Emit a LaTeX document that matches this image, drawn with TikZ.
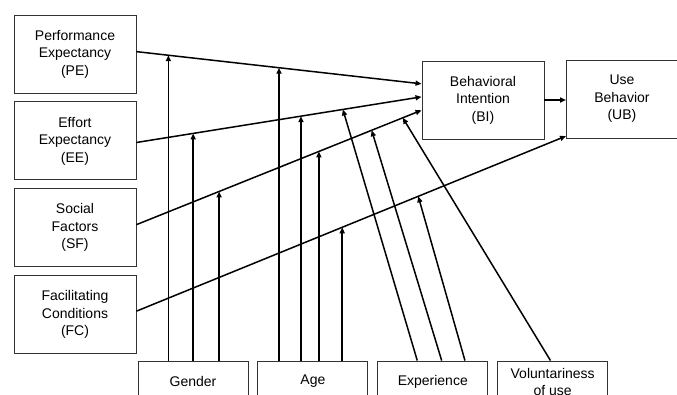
\documentclass[tikz,border=0pt]{standalone}
\usepackage{fontspec}
\setmainfont{Liberation Sans}
\usetikzlibrary{arrows.meta, positioning, calc}

\begin{document}
\begin{tikzpicture}[
    x=1pt, y=-1pt,
    node distance=8pt and 9pt,
    factor/.style={draw=black!80, line width=0.9pt, rectangle, minimum height=78pt, minimum width=122pt, inner sep=0pt, align=center, font=\fontsize{14}{17.5}\selectfont},
    moderator/.style={draw=black!80, line width=0.9pt, rectangle, minimum height=41pt, minimum width=110pt, inner sep=0pt, align=center, font=\fontsize{14}{17}\selectfont},
    line/.style={draw, line width=1.5pt, -{Triangle[length=6pt, width=5pt]}}
]
    \path[use as bounding box, clip] (0,0) rectangle (677,394);

    % Nodes
    \node[factor] (PE) at (75,54) {Performance\\Expectancy\\(PE)};
    \node[factor, below=of PE] (EE) {Effort\\Expectancy\\(EE)};
    \node[factor, below=of EE] (SF) {Social\\Factors\\(SF)};
    \node[factor, below=of SF] (FC) {Facilitating\\Conditions\\(FC)};
    \node[factor] (BI) at (483,100) {Behavioral\\Intention\\(BI)};
    \node[factor, minimum width=111pt, anchor=west] (UB) at (566,99) {Use\\Behavior\\(UB)};

    \node[moderator] (gender) at (193,381.5) {Gender};
    \node[moderator, right=of gender] (age) {Age};
    \node[moderator, right=of age] (exp) {Experience};
    \node[moderator, right=of exp] (vol) {Voluntariness\\of use};

    % Connections
    \draw[line] ($(PE.north east)!0.47!(PE.south east)$) -- coordinate[pos=0.112] (pe1) coordinate[pos=0.5] (pe2) ($(BI.north west)!0.295!(BI.south west)$);
    \draw[line] ($(EE.north east)!0.52!(EE.south east)$) -- coordinate[pos=0.199] (ee1) coordinate[pos=0.577] (ee2) coordinate[pos=0.724] (ee3) ($(BI.north west)!0.46!(BI.south west)$);
    \draw[line] ($(SF.north east)!0.46!(SF.south east)$) -- coordinate[pos=0.29] (sf1) coordinate[pos=0.64] (sf2) coordinate[pos=0.825] (sf3) coordinate[pos=0.934] (sf4) ($(BI.north west)!0.63!(BI.south west)$);
    \draw[line] ($(FC.north east)!0.455!(FC.south east)$) -- coordinate[pos=0.479] (fc1) coordinate[pos=0.656] (fc2) ($(UB.north west)!0.97!(UB.south west)$);
    \draw[line] (BI.east) -- (BI.east -| UB.west);

    % Moderators
    \draw[line] (pe1 |- gender.north) -- (pe1);
    \draw[line] (ee1 |- gender.north) -- (ee1);
    \draw[line] (sf1 |- gender.north) -- (sf1);
    \draw[line] (pe2 |- age.north) -- (pe2);
    \draw[line] (ee2 |- age.north) -- (ee2);
    \draw[line] (sf2 |- age.north) -- (sf2);
    \draw[line] (fc1 |- age.north) -- (fc1);
    \draw[line] ($(exp.north west)!0.36!(exp.north east)$) -- (ee3);
    \draw[line] ($(exp.north west)!0.58!(exp.north east)$) -- (sf3);
    \draw[line] ($(exp.north west)!0.79!(exp.north east)$) -- (fc2);
    \draw[line] ($(vol.north west)!0.48!(vol.north east)$) -- (sf4);

\end{tikzpicture}
\end{document}
